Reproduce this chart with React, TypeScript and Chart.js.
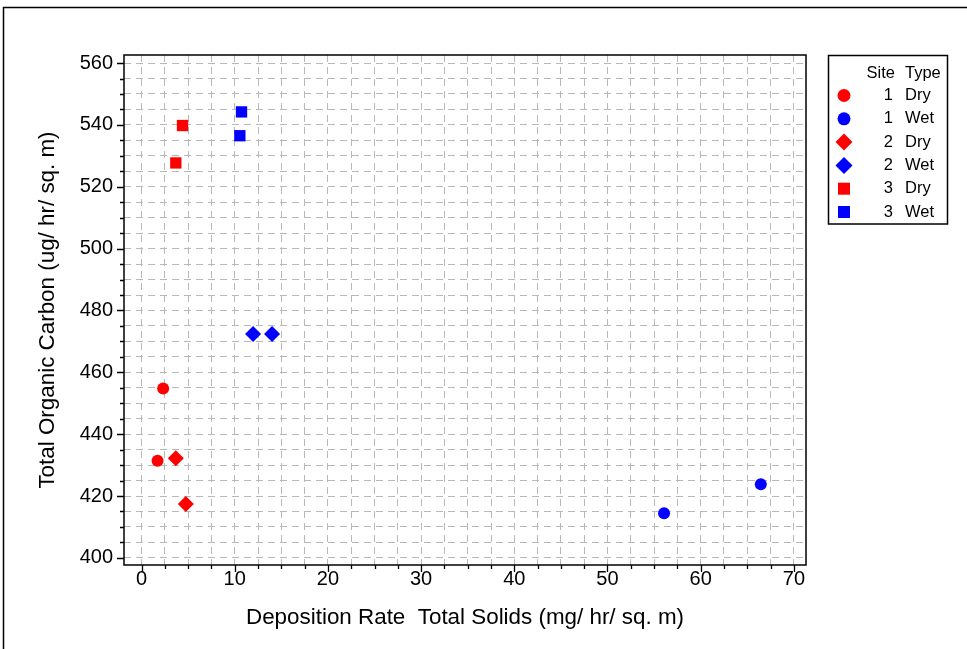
import React, { useEffect, useRef } from "react";
import { Chart, registerables } from "chart.js";

Chart.register(...registerables);

// ---- data ----
const siteLabels = ["1", "1", "2", "2", "3", "3"];
const typeLabels = ["Dry", "Wet", "Dry", "Wet", "Dry", "Wet"];
const site1DryX = [2.32, 1.72];
const site1DryY = [454.8, 431.4];
const site1WetX = [56.07, 66.45];
const site1WetY = [414.4, 423.8];
const site2DryX = [3.68, 4.75];
const site2DryY = [432.2, 417.4];
const site2WetX = [11.97, 14.01];
const site2WetY = [472.4, 472.4];
const site3DryX = [4.4, 3.68];
const site3DryY = [539.8, 527.7];
const site3WetX = [10.73, 10.55];
const site3WetY = [544.2, 536.5];
const xTickValues = [0, 10, 20, 30, 40, 50, 60, 70];
const yTickValues = [400, 420, 440, 460, 480, 500, 520, 540, 560];
const xTitle = "Deposition Rate  Total Solids (mg/ hr/ sq. m)";
const yTitle = "Total Organic Carbon (ug/ hr/ sq. m)";
const legendTitleSite = "Site";
const legendTitleType = "Type";

const RED = "#ff0000";
const BLUE = "#0000ff";
const FONT = "'Liberation Sans', Arial, sans-serif";

const pts = (xs: number[], ys: number[]) => xs.map((x, i) => ({ x, y: ys[i] }));

const seriesX = [site1DryX, site1WetX, site2DryX, site2WetX, site3DryX, site3WetX];
const seriesY = [site1DryY, site1WetY, site2DryY, site2WetY, site3DryY, site3WetY];
const styles = ["circle", "circle", "rectRot", "rectRot", "rect", "rect"];
const radii = [6, 6, 8, 8, 8, 8];
const colors = [RED, BLUE, RED, BLUE, RED, BLUE];

function minorRange(lo: number, hi: number, step: number) {
  const out: number[] = [];
  for (let v = lo; v <= hi + 1e-9; v += step) out.push(Math.round(v * 100) / 100);
  return out;
}

function drawMarker(ctx: CanvasRenderingContext2D, style: string, x: number, y: number, r: number, color: string) {
  ctx.fillStyle = color;
  ctx.beginPath();
  if (style === "circle") {
    ctx.arc(x, y, r, 0, Math.PI * 2);
  } else if (style === "rectRot") {
    ctx.moveTo(x, y - r);
    ctx.lineTo(x + r, y);
    ctx.lineTo(x, y + r);
    ctx.lineTo(x - r, y);
    ctx.closePath();
  } else {
    const s = Math.SQRT1_2 * r;
    ctx.rect(x - s, y - s, 2 * s, 2 * s);
  }
  ctx.fill();
}

const decor = {
  id: "decor",
  beforeDraw(chart: any) {
    const ctx = chart.ctx as CanvasRenderingContext2D;
    ctx.save();
    ctx.fillStyle = "#ffffff";
    ctx.fillRect(0, 0, chart.width, chart.height);
    ctx.strokeStyle = "#000";
    ctx.lineWidth = 1.5;
    ctx.beginPath();
    ctx.moveTo(3.5, chart.height + 2);
    ctx.lineTo(3.5, 7.5);
    ctx.lineTo(chart.width + 2, 7.5);
    ctx.stroke();
    ctx.restore();
  },
  afterDraw(chart: any) {
    const ctx = chart.ctx as CanvasRenderingContext2D;
    const a = chart.chartArea;
    const xs = chart.scales.x;
    const ys = chart.scales.y;
    ctx.save();
    ctx.strokeStyle = "#000";
    ctx.lineWidth = 1.5;
    ctx.strokeRect(a.left, a.top, a.right - a.left, a.bottom - a.top);
    ctx.lineWidth = 1.3;
    ctx.beginPath();
    xs.ticks.forEach((t: any) => {
      const px = Math.round(xs.getPixelForValue(t.value)) + 0.5;
      const len = Math.abs(t.value % 10) < 1e-6 ? 7 : 4;
      ctx.moveTo(px, a.bottom);
      ctx.lineTo(px, a.bottom + len);
    });
    ys.ticks.forEach((t: any) => {
      const py = Math.round(ys.getPixelForValue(t.value)) + 0.5;
      const len = Math.abs(t.value % 20) < 1e-6 ? 7 : 4;
      ctx.moveTo(a.left, py);
      ctx.lineTo(a.left - len, py);
    });
    ctx.stroke();

    // legend
    const lx = 828.5, ly = 55.5, lw = 119, lh = 168.5;
    ctx.lineWidth = 1.5;
    ctx.strokeRect(lx, ly, lw, lh);
    ctx.fillStyle = "#000";
    ctx.font = `16.5px ${FONT}`;
    ctx.textBaseline = "middle";
    ctx.textAlign = "right";
    ctx.fillText(legendTitleSite, 895, 73);
    ctx.textAlign = "left";
    ctx.fillText(legendTitleType, 905, 73);
    chart.data.datasets.forEach((ds: any, i: number) => {
      const cy = 95.5 + i * 23.3;
      drawMarker(ctx, ds.pointStyle, 844, cy, ds.pointRadius + 0.5, ds.backgroundColor);
      ctx.fillStyle = "#000";
      ctx.textAlign = "right";
      ctx.fillText(siteLabels[i], 893, cy);
      ctx.textAlign = "left";
      ctx.fillText(typeLabels[i], 905, cy);
    });
    ctx.restore();
  },
};

export default function App() {
  const ref = useRef<HTMLCanvasElement | null>(null);
  useEffect(() => {
    if (!ref.current) return;
    const datasets = seriesX.map((xs, i) => ({
      label: `${siteLabels[i]} ${typeLabels[i]}`,
      data: pts(xs, seriesY[i]),
      pointStyle: styles[i],
      pointRadius: radii[i],
      backgroundColor: colors[i],
      borderColor: colors[i],
      borderWidth: 0,
    }));
    const chart = new Chart(ref.current, {
      type: "scatter",
      data: { datasets },
      plugins: [decor],
      options: {
        responsive: false,
        animation: false,
        devicePixelRatio: 1,
        layout: { padding: { left: 0, top: 55, right: 161, bottom: 0 }, autoPadding: false },
        plugins: { legend: { display: false }, tooltip: { enabled: false } },
        scales: {
          x: {
            type: "linear",
            min: -1.88,
            max: 71.3,
            afterFit: (s: any) => { s.height = 84; },
            afterBuildTicks: (s: any) => { s.ticks = minorRange(0, 70, 2.5).map((v) => ({ value: v })); },
            ticks: {
              autoSkip: false,
              maxRotation: 0,
              padding: 2,
              color: "#000",
              font: { family: FONT, size: 20 },
              callback: (v: any) => (xTickValues.includes(Number(v)) ? String(v) : ""),
            },
            grid: { color: "#b8b8b8", lineWidth: 1, drawTicks: false },
            border: { display: false, dash: [7, 5] },
            title: { display: true, text: xTitle, color: "#000", font: { family: FONT, size: 22.4 }, padding: { top: 0, bottom: 18 } },
          },
          y: {
            type: "linear",
            min: 397.7,
            max: 562.6,
            afterFit: (s: any) => { s.width = 124; },
            afterBuildTicks: (s: any) => { s.ticks = minorRange(400, 560, 5).map((v) => ({ value: v })); },
            ticks: {
              autoSkip: false,
              padding: 11,
              color: "#000",
              font: { family: FONT, size: 20 },
              callback: (v: any) => (yTickValues.includes(Number(v)) ? String(v) : ""),
            },
            grid: { color: "#b8b8b8", lineWidth: 1, drawTicks: false },
            border: { display: false, dash: [7, 5] },
            title: { display: true, text: yTitle, color: "#000", font: { family: FONT, size: 22.4 }, padding: { top: 34, bottom: 0 } },
          },
        },
      } as any,
    });
    return () => chart.destroy();
  }, []);
  return (
    <div style={{ position: "absolute", left: 0, top: 0, width: 967, height: 649 }}>
      <canvas ref={ref} width={967} height={649} />
    </div>
  );
}
